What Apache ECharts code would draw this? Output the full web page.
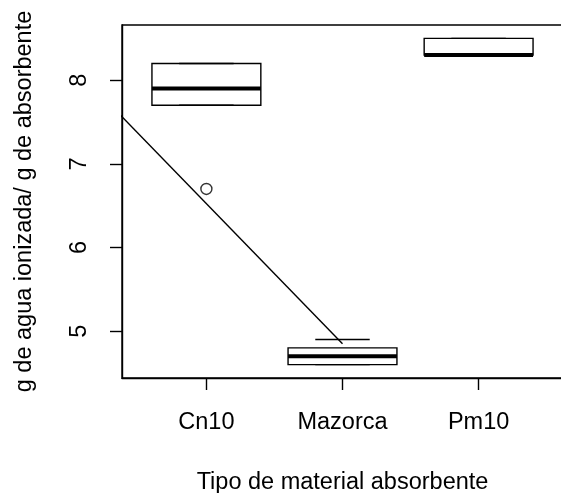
<!DOCTYPE html>
<html>
<head>
<meta charset="utf-8">
<script src="https://cdn.jsdelivr.net/npm/echarts@6/dist/echarts.min.js"></script>
<style>
html,body{margin:0;padding:0;background:#fff;}
#chart{width:561px;height:493px;}
</style>
</head>
<body>
<div id="chart"></div>
<script>
// ---- data ----
var categories = ['Cn10', 'Mazorca', 'Pm10'];
var whiskerLow = [7.7, 4.6, 8.3];
var q1 = [7.7, 4.6, 8.3];
var medians = [7.9, 4.7, 8.3];
var q3 = [8.2, 4.8, 8.5];
var whiskerHigh = [8.2, 4.9, 8.5];
var outlierCategory = [0];
var outlierValue = [6.7];
var trendX = [0, 2];
var trendY = [8.2, 4.85];
var yTicks = [5, 6, 7, 8];
var xTicks = [1, 2, 3];

var FONT = '"Liberation Sans", Arial, sans-serif';
var chart = echarts.init(document.getElementById('chart'), null, {renderer: 'canvas'});

var boxData = categories.map(function (c, i) {
  return [i + 1, whiskerLow[i], q1[i], medians[i], q3[i], whiskerHigh[i]];
});
var outlierData = outlierCategory.map(function (ci, k) { return [ci + 1, outlierValue[k]]; });
var trendData = trendX.map(function (x, k) { return [x, trendY[k]]; });

function renderBox(params, api) {
  var x = api.value(0);
  var lo = api.value(1), a = api.value(2), med = api.value(3), b = api.value(4), hi = api.value(5);
  var hw = 0.4, sw = 0.2;
  var tl = api.coord([x - hw, b]);
  var br = api.coord([x + hw, a]);
  var mL = api.coord([x - hw, med]);
  var mR = api.coord([x + hw, med]);
  var sLoL = api.coord([x - sw, lo]), sLoR = api.coord([x + sw, lo]);
  var sHiL = api.coord([x - sw, hi]), sHiR = api.coord([x + sw, hi]);
  var stroke = {stroke: '#000', lineWidth: 1.4, fill: null};
  return {
    type: 'group',
    children: [
      {type: 'rect', shape: {x: tl[0], y: tl[1], width: br[0] - tl[0], height: br[1] - tl[1]},
       style: {fill: '#fff', stroke: '#000', lineWidth: 1.4}},
      {type: 'line', shape: {x1: sLoL[0], y1: sLoL[1], x2: sLoR[0], y2: sLoR[1]}, style: stroke},
      {type: 'line', shape: {x1: sHiL[0], y1: sHiL[1], x2: sHiR[0], y2: sHiR[1]}, style: stroke},
      {type: 'line', shape: {x1: mL[0], y1: mL[1], x2: mR[0], y2: mR[1]},
       style: {stroke: '#000', lineWidth: 4, fill: null}}
    ]
  };
}

var option = {
  animation: false,
  backgroundColor: '#fff',
  grid: {left: 122, top: 25, width: 441, height: 353, show: true, outerBoundsMode: 'none',
         containLabel: false,
         borderColor: '#000', borderWidth: 1.4, backgroundColor: 'transparent'},
  xAxis: {
    type: 'value', min: 0.38, max: 3.62,
    name: 'Tipo de material absorbente', nameLocation: 'middle', nameGap: 93,
    nameTextStyle: {fontFamily: FONT, fontSize: 23.5, color: '#000'},
    splitLine: {show: false},
    axisLine: {show: true, lineStyle: {color: '#000', width: 1.4}},
    axisTick: {show: true, length: 12, customValues: xTicks, lineStyle: {color: '#000', width: 1.4}},
    axisLabel: {show: true, customValues: xTicks, margin: 33,
      fontFamily: FONT, fontSize: 23.5, color: '#000',
      formatter: function (v) { return categories[Math.round(v) - 1] || ''; }}
  },
  yAxis: {
    type: 'value', min: 4.44, max: 8.66,
    name: 'g de agua ionizada/ g de absorbente', nameLocation: 'middle', nameGap: 85, nameRotate: 90,
    nameTextStyle: {fontFamily: FONT, fontSize: 23.5, color: '#000'},
    splitLine: {show: false},
    axisLine: {show: true, lineStyle: {color: '#000', width: 1.4}},
    axisTick: {show: true, length: 12, customValues: yTicks, lineStyle: {color: '#000', width: 1.4}},
    axisLabel: {show: true, customValues: yTicks, rotate: 90, margin: 30,
      fontFamily: FONT, fontSize: 23.5, color: '#000'}
  },
  series: [
    {type: 'line', data: trendData, symbol: 'none', clip: true, silent: true,
     lineStyle: {color: '#000', width: 1.4}, z: 1},
    {type: 'custom', renderItem: renderBox, data: boxData, clip: true, z: 2,
     encode: {x: 0, y: [1, 2, 3, 4, 5]}},
    {type: 'scatter', data: outlierData, symbol: 'circle', symbolSize: 11, z: 3,
     itemStyle: {color: 'transparent', borderColor: '#000', borderWidth: 1.4}}
  ]
};
chart.setOption(option);
</script>
</body>
</html>
